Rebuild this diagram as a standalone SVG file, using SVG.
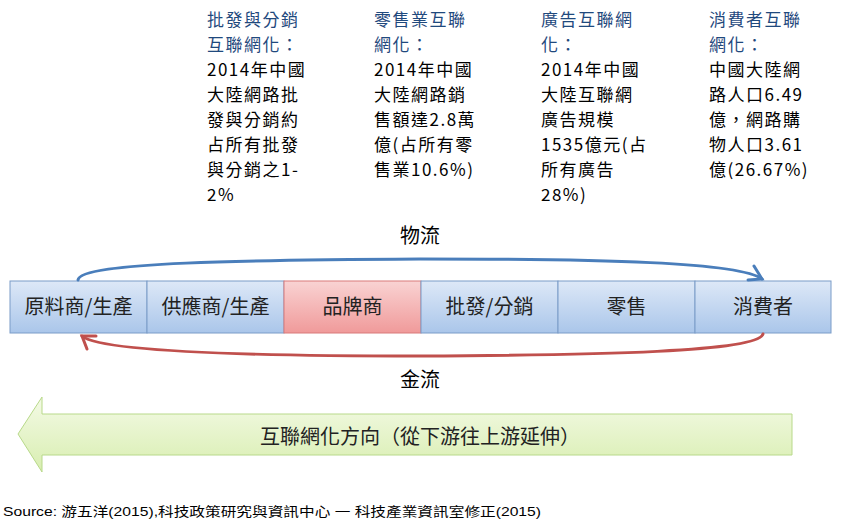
<svg xmlns="http://www.w3.org/2000/svg" width="841" height="524" viewBox="0 0 841 524">
<style>
text{font-family:"Noto Sans CJK TC","Noto Sans CJK SC",sans-serif;}
.h{fill:#1f497d;font-size:17px;letter-spacing:1.5px;}
.b{fill:#000;font-size:17px;letter-spacing:1.5px;}
.lbl{fill:#222;font-size:20px;text-anchor:middle;}
.box{stroke:#7a9cc8;stroke-width:1;}
.flow{font-size:20px;fill:#000;text-anchor:middle;}
</style>
<defs>
<linearGradient id="gb" x1="0" y1="0" x2="0" y2="1"><stop offset="0" stop-color="#dde8f7"/><stop offset="1" stop-color="#aac6ea"/></linearGradient>
<linearGradient id="gr" x1="0" y1="0" x2="0" y2="1"><stop offset="0" stop-color="#f9d3d3"/><stop offset="1" stop-color="#f09a9a"/></linearGradient>
<linearGradient id="gg" x1="0" y1="0" x2="0" y2="1"><stop offset="0" stop-color="#f4fae6"/><stop offset="1" stop-color="#d8eeb0"/></linearGradient>
</defs>
<g id="notes">
<g id="note1"><text x="207" y="26" class="h">批發與分銷</text><text x="207" y="51" class="h">互聯網化：</text><text x="207" y="76" class="b">2014年中國</text><text x="207" y="101" class="b">大陸網路批</text><text x="207" y="126" class="b">發與分銷約</text><text x="207" y="151" class="b">占所有批發</text><text x="207" y="176" class="b">與分銷之1-</text><text x="207" y="201" class="b">2%</text></g>
<g id="note2"><text x="374" y="26" class="h">零售業互聯</text><text x="374" y="51" class="h">網化：</text><text x="374" y="76" class="b">2014年中國</text><text x="374" y="101" class="b">大陸網路銷</text><text x="374" y="126" class="b">售額達2.8萬</text><text x="374" y="151" class="b">億(占所有零</text><text x="374" y="176" class="b">售業10.6%)</text></g>
<g id="note3"><text x="541" y="26" class="h">廣告互聯網</text><text x="541" y="51" class="h">化：</text><text x="541" y="76" class="b">2014年中國</text><text x="541" y="101" class="b">大陸互聯網</text><text x="541" y="126" class="b">廣告規模</text><text x="541" y="151" class="b">1535億元(占</text><text x="541" y="176" class="b">所有廣告</text><text x="541" y="201" class="b">28%)</text></g>
<g id="note4"><text x="709" y="26" class="h">消費者互聯</text><text x="709" y="51" class="h">網化：</text><text x="709" y="76" class="b">中國大陸網</text><text x="709" y="101" class="b">路人口6.49</text><text x="709" y="126" class="b">億，網路購</text><text x="709" y="151" class="b">物人口3.61</text><text x="709" y="176" class="b">億(26.67%)</text></g>
</g>
<g id="chain">
<g id="n1"><rect x="10" y="281" width="137" height="52" fill="url(#gb)" class="box"/><text x="78.5" y="314" class="lbl">原料商/生產</text></g>
<g id="n2"><rect x="147" y="281" width="137" height="52" fill="url(#gb)" class="box"/><text x="215.5" y="314" class="lbl">供應商/生產</text></g>
<g id="n3"><rect x="284" y="281" width="137" height="52" fill="url(#gr)" stroke="#d97b7b"/><text x="352.5" y="314" class="lbl">品牌商</text></g>
<g id="n4"><rect x="421" y="281" width="137" height="52" fill="url(#gb)" class="box"/><text x="489.5" y="314" class="lbl">批發/分銷</text></g>
<g id="n5"><rect x="558" y="281" width="137" height="52" fill="url(#gb)" class="box"/><text x="626.5" y="314" class="lbl">零售</text></g>
<g id="n6"><rect x="695" y="281" width="136" height="52" fill="url(#gb)" class="box"/><text x="763" y="314" class="lbl">消費者</text></g>
</g>
<g id="connectors" fill="none" stroke-width="3" stroke-linecap="round">
<path d="M78 280 C80 262 250 260 420 259 C600 259 740 262 762 279" stroke="#4a7ebb"/>
<path d="M754 266 L762 279 L748 280" stroke="#4a7ebb"/>
<path d="M763 334 C758 352 600 355 420 356 C250 356 100 352 82 336" stroke="#c0504d"/>
<path d="M87 349 L82 336 L96 336" stroke="#c0504d"/>
</g>
<text x="420" y="243" class="flow">物流</text>
<text x="420" y="387" class="flow">金流</text>
<g id="direction">
<polygon points="18,434 42,397 42,414 792,414 792,455 42,455 42,472" fill="url(#gg)" stroke="#b8d98a" stroke-width="1"/>
<text x="420" y="444" fill="#222" font-size="20px" text-anchor="middle">互聯網化方向（從下游往上游延伸）</text>
</g>
<text x="3" y="516" font-size="13px" fill="#000" textLength="538" lengthAdjust="spacingAndGlyphs" style="font-family:'Liberation Sans','Noto Sans CJK TC',sans-serif">Source: 游五洋(2015),科技政策研究與資訊中心 一 科技產業資訊室修正(2015)</text>
</svg>
